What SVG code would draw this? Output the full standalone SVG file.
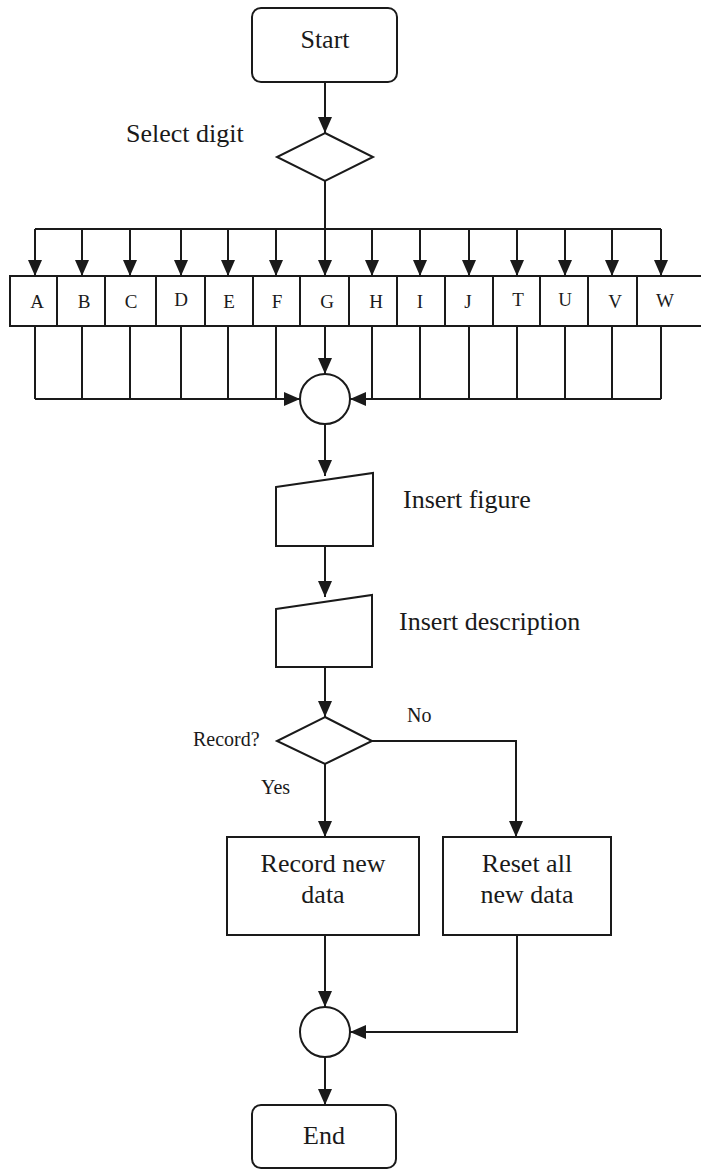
<svg xmlns="http://www.w3.org/2000/svg" width="701" height="1172" viewBox="0 0 701 1172">
<style>
  .shape { fill: #ffffff; stroke: #1a1a1a; stroke-width: 2; }
  .line { fill: none; stroke: #1a1a1a; stroke-width: 2; }
  .arrow { fill: none; stroke: #1a1a1a; stroke-width: 2; marker-end: url(#ah); }
  .t { font-family: "Liberation Serif", "Times New Roman", serif; font-size: 26px; fill: #1a1a1a; }
  .tc { font-family: "Liberation Serif", "Times New Roman", serif; font-size: 26px; fill: #1a1a1a; text-anchor: middle; }
  .ts { font-family: "Liberation Serif", "Times New Roman", serif; font-size: 20px; fill: #1a1a1a; }
  .tl { font-family: "Liberation Serif", "Times New Roman", serif; font-size: 19px; fill: #1a1a1a; text-anchor: middle; }
</style>
<defs>
  <marker id="ah" markerUnits="userSpaceOnUse" markerWidth="16" markerHeight="14" refX="16" refY="7" orient="auto">
    <path d="M0,0 L16,7 L0,14 z" fill="#1a1a1a"/>
  </marker>
</defs>
<rect width="701" height="1172" fill="#ffffff"/>

<g id="connectors">
  <line class="arrow" x1="325" y1="82" x2="325" y2="133"/>
  <line class="arrow" x1="325" y1="181" x2="325" y2="276"/>
  <line class="line" x1="35" y1="229" x2="661" y2="229"/>
  <line class="arrow" x1="35" y1="229" x2="35" y2="276"/>
  <line class="arrow" x1="82" y1="229" x2="82" y2="276"/>
  <line class="arrow" x1="130" y1="229" x2="130" y2="276"/>
  <line class="arrow" x1="181" y1="229" x2="181" y2="276"/>
  <line class="arrow" x1="228" y1="229" x2="228" y2="276"/>
  <line class="arrow" x1="276" y1="229" x2="276" y2="276"/>
  <line class="arrow" x1="372" y1="229" x2="372" y2="276"/>
  <line class="arrow" x1="420" y1="229" x2="420" y2="276"/>
  <line class="arrow" x1="469" y1="229" x2="469" y2="276"/>
  <line class="arrow" x1="517" y1="229" x2="517" y2="276"/>
  <line class="arrow" x1="565" y1="229" x2="565" y2="276"/>
  <line class="arrow" x1="612" y1="229" x2="612" y2="276"/>
  <line class="arrow" x1="661" y1="229" x2="661" y2="276"/>
  <line class="arrow" x1="325" y1="326" x2="325" y2="374"/>
  <line class="line" x1="35" y1="326" x2="35" y2="399"/>
  <line class="line" x1="82" y1="326" x2="82" y2="399"/>
  <line class="line" x1="130" y1="326" x2="130" y2="399"/>
  <line class="line" x1="181" y1="326" x2="181" y2="399"/>
  <line class="line" x1="228" y1="326" x2="228" y2="399"/>
  <line class="line" x1="276" y1="326" x2="276" y2="399"/>
  <line class="line" x1="372" y1="326" x2="372" y2="399"/>
  <line class="line" x1="420" y1="326" x2="420" y2="399"/>
  <line class="line" x1="469" y1="326" x2="469" y2="399"/>
  <line class="line" x1="517" y1="326" x2="517" y2="399"/>
  <line class="line" x1="565" y1="326" x2="565" y2="399"/>
  <line class="line" x1="612" y1="326" x2="612" y2="399"/>
  <line class="line" x1="661" y1="326" x2="661" y2="399"/>
  <line class="arrow" x1="35" y1="399" x2="300" y2="399"/>
  <line class="arrow" x1="661" y1="399" x2="350" y2="399"/>
  <line class="arrow" x1="325" y1="424" x2="325" y2="476"/>
  <line class="arrow" x1="325" y1="546" x2="325" y2="597"/>
  <line class="arrow" x1="325" y1="667" x2="325" y2="717"/>
  <polyline class="arrow" points="372,741 516,741 516,837"/>
  <line class="arrow" x1="325" y1="764" x2="325" y2="837"/>
  <line class="arrow" x1="325" y1="935" x2="325" y2="1007"/>
  <polyline class="arrow" points="517,935 517,1032 350,1032"/>
  <line class="arrow" x1="325" y1="1057" x2="325" y2="1105"/>
</g>

<g id="start">
  <rect class="shape" x="252" y="8" width="145" height="74" rx="9"/>
  <text class="tc" x="325" y="48">Start</text>
</g>

<g id="select-digit">
  <polygon class="shape" points="325,133 373,157 325,181 277,157"/>
  <text class="t" x="126" y="142">Select digit</text>
</g>

<g id="digits">
  <rect class="shape" x="10" y="276" width="700" height="50"/>
  <line class="line" x1="57" y1="276" x2="57" y2="326"/>
  <line class="line" x1="105" y1="276" x2="105" y2="326"/>
  <line class="line" x1="156" y1="276" x2="156" y2="326"/>
  <line class="line" x1="205" y1="276" x2="205" y2="326"/>
  <line class="line" x1="253" y1="276" x2="253" y2="326"/>
  <line class="line" x1="300" y1="276" x2="300" y2="326"/>
  <line class="line" x1="349" y1="276" x2="349" y2="326"/>
  <line class="line" x1="397" y1="276" x2="397" y2="326"/>
  <line class="line" x1="445" y1="276" x2="445" y2="326"/>
  <line class="line" x1="493" y1="276" x2="493" y2="326"/>
  <line class="line" x1="540" y1="276" x2="540" y2="326"/>
  <line class="line" x1="588" y1="276" x2="588" y2="326"/>
  <line class="line" x1="637" y1="276" x2="637" y2="326"/>
  <text class="tl" x="37" y="308">A</text>
  <text class="tl" x="84" y="308">B</text>
  <text class="tl" x="131" y="308">C</text>
  <text class="tl" x="181" y="306">D</text>
  <text class="tl" x="229" y="308">E</text>
  <text class="tl" x="277" y="308">F</text>
  <text class="tl" x="327" y="308">G</text>
  <text class="tl" x="376" y="308">H</text>
  <text class="tl" x="420" y="308">I</text>
  <text class="tl" x="468" y="308">J</text>
  <text class="tl" x="518" y="306">T</text>
  <text class="tl" x="565" y="306">U</text>
  <text class="tl" x="615" y="308">V</text>
  <text class="tl" x="665" y="307">W</text>
</g>

<g id="merge1">
  <circle class="shape" cx="325" cy="399" r="25"/>
</g>

<g id="insert-figure">
  <polygon class="shape" points="276,487 373,473 373,546 276,546"/>
  <text class="t" x="403" y="508">Insert figure</text>
</g>

<g id="insert-description">
  <polygon class="shape" points="276,609 372,595 372,667 276,667"/>
  <text class="t" x="399" y="630">Insert description</text>
</g>

<g id="record-decision">
  <polygon class="shape" points="325,717 372,741 325,764 277,741"/>
  <text class="ts" x="193" y="746">Record?</text>
  <text class="ts" x="261" y="794">Yes</text>
  <text class="ts" x="407" y="722">No</text>
</g>

<g id="record-new-data">
  <rect class="shape" x="227" y="837" width="192" height="98"/>
  <text class="tc" x="323" y="872">Record new</text>
  <text class="tc" x="323" y="903">data</text>
</g>

<g id="reset-all">
  <rect class="shape" x="443" y="837" width="168" height="98"/>
  <text class="tc" x="527" y="872">Reset all</text>
  <text class="tc" x="527" y="903">new data</text>
</g>

<g id="merge2">
  <circle class="shape" cx="325" cy="1032" r="25"/>
</g>

<g id="end">
  <rect class="shape" x="252" y="1105" width="144" height="63" rx="9"/>
  <text class="tc" x="324" y="1144">End</text>
</g>
</svg>
